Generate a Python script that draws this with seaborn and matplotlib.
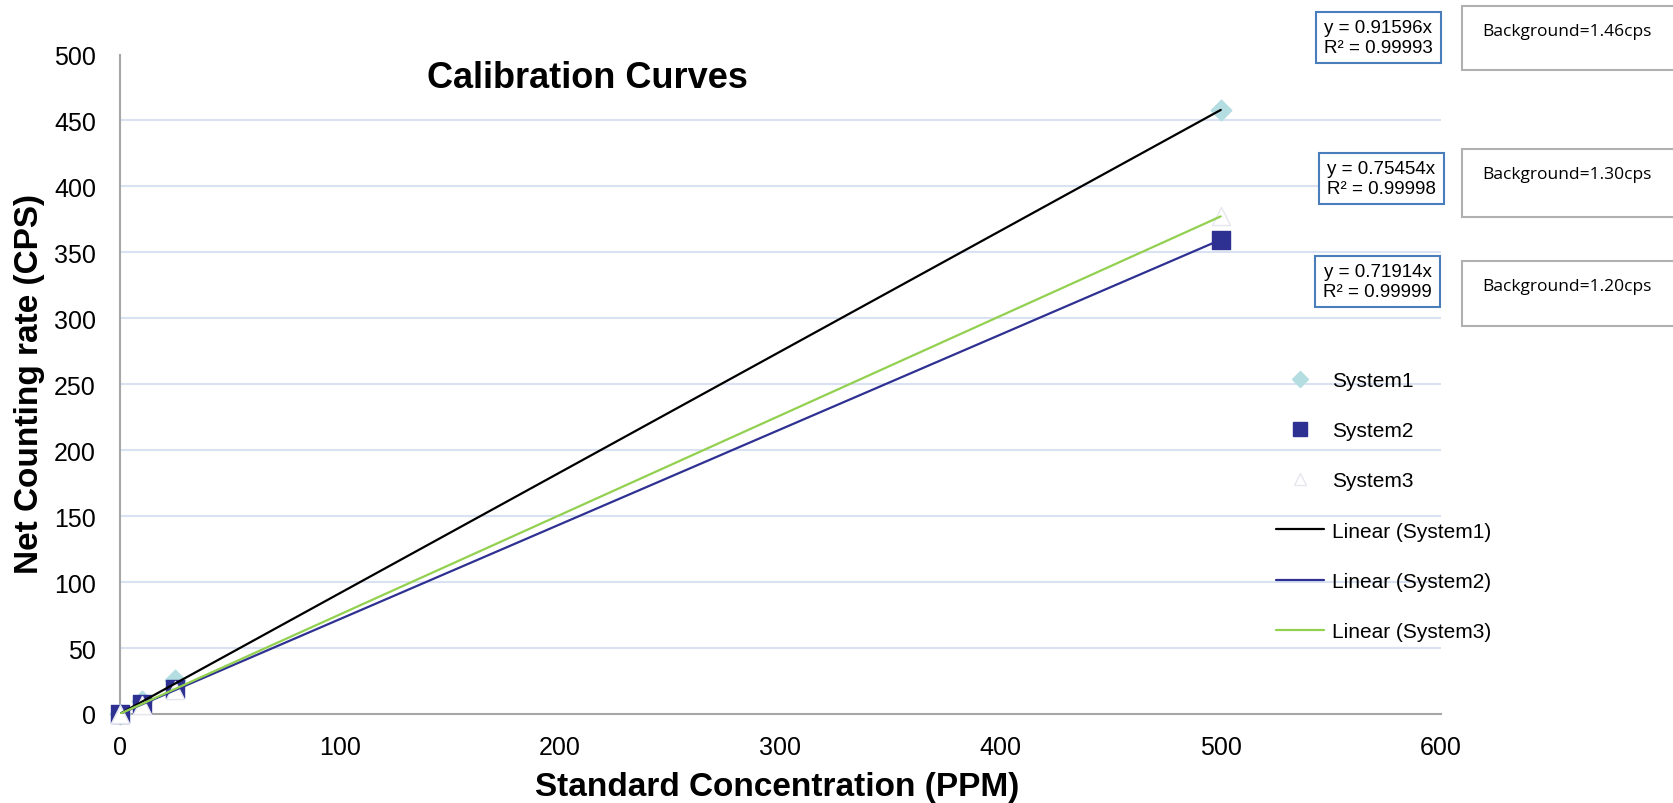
import matplotlib
matplotlib.use('Agg')
import matplotlib.pyplot as plt
import matplotlib.patches as patches
from matplotlib.lines import Line2D
import numpy as np
import pandas as pd
import seaborn as sns

# values
concentration = [0, 10, 25, 500]
system1 = [0, 10, 25.4, 458]
system2 = [0, 7.6, 19, 359.5]
system3 = [0, 7, 18, 377.5]
fit_slopes = {'System1': 0.91596, 'System2': 0.71914, 'System3': 0.75454}

# annotation boxes, top to bottom
eq_slopes = ['0.91596', '0.75454', '0.71914']
eq_r2 = ['0.99993', '0.99998', '0.99999']
backgrounds = ['1.46', '1.30', '1.20']

W, H = 1674, 804

sns.set_style('white')
plt.rcParams['font.family'] = ['Liberation Sans', 'DejaVu Sans']
plt.rcParams['text.color'] = 'black'
plt.rcParams['xtick.color'] = 'black'
plt.rcParams['ytick.color'] = 'black'

fig = plt.figure(figsize=(W / 100, H / 100), dpi=100)
ax = fig.add_axes([119.6 / W, 1 - 715 / H, (1441 - 119.6) / W, (715 - 55.5) / H])

df = pd.DataFrame({'conc': concentration * 3,
                   'rate': system1 + system2 + system3,
                   'system': ['System1'] * 4 + ['System2'] * 4 + ['System3'] * 4})

styles = {'System1': dict(marker='D', color='#b4dde1', edgecolor='#b4dde1', s=110),
          'System2': dict(marker='s', color='#2e3192', edgecolor='#2e3192', s=150),
          'System3': dict(marker='^', color='white', edgecolor='#e6e6ee', s=170)}
line_colors = {'System1': 'black', 'System2': '#2e3192', 'System3': '#92d050'}

for name, st in styles.items():
    sub = df[df['system'] == name]
    sns.scatterplot(data=sub, x='conc', y='rate', ax=ax, marker=st['marker'], color=st['color'],
                    edgecolor=st['edgecolor'], linewidth=1, s=st['s'], zorder=3, legend=False,
                    clip_on=False)

for name, slope in fit_slopes.items():
    sub = df[df['system'] == name]
    xs = np.array([sub['conc'].min(), sub['conc'].max()])
    sns.lineplot(x=xs, y=slope * xs, ax=ax, color=line_colors[name], linewidth=1.6, zorder=4)

ax.set_xlim(0, 600)
ax.set_ylim(0, 500)
ax.set_xticks(range(0, 601, 100))
ax.set_yticks(range(0, 501, 50))
ax.tick_params(axis='both', length=0, labelsize=18, colors='black')
ax.tick_params(axis='y', pad=17)
ax.tick_params(axis='x', pad=15)
ax.set_xlabel('')
ax.set_ylabel('')
ax.yaxis.grid(True, color='#d9e2f3', linewidth=1.5)
ax.xaxis.grid(False)
ax.get_ygridlines()[0].set_visible(False)
ax.get_ygridlines()[-1].set_visible(False)
for side in ['top', 'right']:
    ax.spines[side].set_visible(False)
for side in ['left', 'bottom']:
    ax.spines[side].set_color('#a6a6a6')
    ax.spines[side].set_linewidth(1.5)

ax.text(0.354, 0.965, 'Calibration Curves', transform=ax.transAxes, ha='center', va='center',
        fontsize=26, fontweight='bold')
fig.text(30 / W, 1 - 384 / H, 'Net Counting rate (CPS)', rotation=90, ha='center', va='center',
         fontsize=24, fontweight='bold')
fig.text(777 / W, 1 - 788 / H, 'Standard Concentration (PPM)', ha='center', va='center',
         fontsize=24, fontweight='bold')

# legend
handles = [Line2D([], [], linestyle='none', marker='D', markersize=8, color='#b4dde1'),
           Line2D([], [], linestyle='none', marker='s', markersize=10, color='#2e3192'),
           Line2D([], [], linestyle='none', marker='^', markersize=9, markerfacecolor='white',
                  markeredgecolor='#e6e6ee'),
           Line2D([], [], color='black', linewidth=1.6),
           Line2D([], [], color='#2e3192', linewidth=1.6),
           Line2D([], [], color='#92d050', linewidth=1.6)]
labels = ['System1', 'System2', 'System3', 'Linear (System1)', 'Linear (System2)', 'Linear (System3)']
fig.legend(handles, labels, loc='center left', bbox_to_anchor=(1276 / W, 1 - 507 / H),
           frameon=False, borderpad=0, borderaxespad=0, handlelength=2.3, handletextpad=0.4,
           labelspacing=1.5, prop={'family': 'Liberation Sans', 'size': 15})

# equation boxes and background boxes
eq_boxes = [(1316, 13, 1441, 64), (1319, 154, 1444, 205), (1315, 257, 1440, 308)]
bg_boxes = [(1462, 7, 71), (1462, 150, 218), (1462, 262, 327)]
for (x0, y0, x1, y1), sl, r2 in zip(eq_boxes, eq_slopes, eq_r2):
    fig.patches.append(patches.Rectangle((x0 / W, 1 - y1 / H), (x1 - x0) / W, (y1 - y0) / H,
                                         transform=fig.transFigure, facecolor='white',
                                         edgecolor='#4a7ebb', linewidth=1.5))
    fig.text((x0 + x1) / 2 / W, 1 - (y0 + y1) / 2 / H, f'y = {sl}x\nR² = {r2}', ha='center',
             va='center', fontsize=13.5, family='Liberation Sans', linespacing=1.3)
for (x0, y0, y1), bg in zip(bg_boxes, backgrounds):
    fig.patches.append(patches.Rectangle((x0 / W, 1 - y1 / H), (W + 5 - x0) / W, (y1 - y0) / H,
                                         transform=fig.transFigure, facecolor='white',
                                         edgecolor='#b0b0b0', linewidth=1.5))
    fig.text(1482 / W, 1 - (y0 + 25) / H, f'Background={bg}cps', ha='left', va='center',
             fontsize=12.5, family='Open Sans')

fig.savefig('out.png', dpi=100)
